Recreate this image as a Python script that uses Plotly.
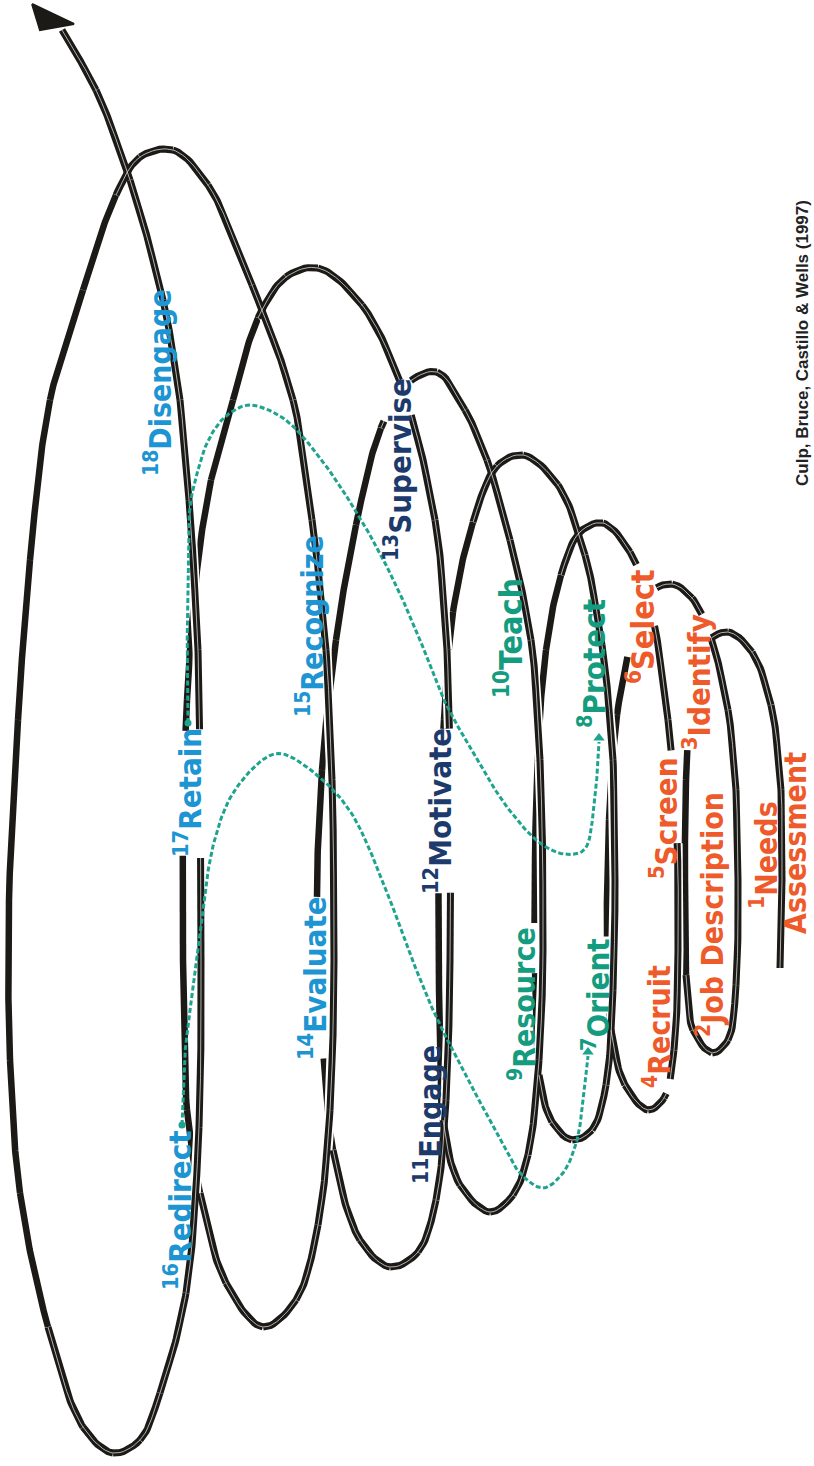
import numpy as np
import plotly.graph_objects as go

# ---------------------------------------------------------------- data
STEP_NUM = list(range(1, 19))
STEP_NAME = ["Needs Assessment", "Job Description", "Identify", "Recruit", "Screen",
             "Select", "Orient", "Protect", "Resource", "Teach", "Engage", "Motivate",
             "Supervise", "Evaluate", "Recognize", "Redirect", "Retain", "Disengage"]
STEP_PHASE = ["hire"] * 6 + ["train"] * 4 + ["manage"] * 3 + ["sustain"] * 5
CREDIT = "Culp, Bruce, Castillo & Wells (1997)"

# spiral control points (picture pixels, y downward), in drawing order
SPIRAL_X = [780, 782, 781, 771, 752, 728,
            706, 693, 686, 685, 686, 693, 712,
            728, 736, 738, 736, 728, 710, 692, 672,
            651, 634, 617, 609, 607, 611, 625, 648,
            664, 674, 678, 677, 668, 652, 630, 603,
            580, 561, 546, 538, 535, 535, 539, 552, 572,
            592, 606, 613, 615, 613, 602, 585, 558, 523,
            497, 473, 453, 444, 439, 439, 443, 460, 490,
            513, 528, 539, 543, 540, 531, 510, 487, 465, 437,
            408, 381, 356, 336, 322, 317, 322, 333, 360, 390,
            418, 436, 446, 450, 450, 447, 435, 403, 362, 318,
            286, 258, 233, 211, 197, 187, 183, 183, 187, 200, 226, 263,
            296, 318, 330, 334, 332, 326, 312, 293, 252, 208, 173,
            140, 116, 83, 50, 30, 18, 9, 10, 20, 48, 83, 113,
            140, 160, 186, 199, 201, 200, 198, 189, 180, 163, 130, 96, 62]
SPIRAL_Y = [968, 880, 790, 705, 652, 632,
            643, 688, 780, 880, 975, 1030, 1053,
            1040, 985, 880, 790, 710, 635, 598, 584,
            592, 632, 715, 820, 930, 1030, 1085, 1110,
            1098, 1050, 950, 840, 720, 615, 552, 523,
            532, 575, 650, 750, 860, 970, 1075, 1122, 1140,
            1130, 1085, 990, 880, 760, 645, 555, 485, 455,
            466, 522, 612, 720, 850, 990, 1120, 1185, 1212,
            1195, 1155, 1060, 950, 760, 640, 540, 460, 410, 372,
            383, 428, 525, 640, 770, 900, 1030, 1150, 1240, 1267,
            1252, 1200, 1100, 960, 800, 650, 520, 390, 305, 268,
            277, 318, 400, 480, 570, 700, 840, 960, 1110, 1193, 1283, 1327,
            1300, 1225, 1110, 960, 780, 650, 520, 400, 285, 185, 150,
            157, 195, 290, 400, 560, 720, 900, 1060, 1193, 1327, 1427, 1453,
            1440, 1393, 1293, 1127, 960, 800, 650, 500, 400, 300, 180, 90, 30]
# 1 = strand in front (tube with highlight), 0 = strand behind
SPIRAL_FRONT = [1, 1, 1, 1, 1, 1,
                1, 0, 0, 0, 1, 1, 1,
                1, 1, 1, 1, 1, 1, 1, 1,
                1, 0, 0, 0, 0, 1, 1, 1,
                1, 1, 1, 1, 1, 1, 1, 1,
                1, 0, 0, 0, 0, 0, 1, 1, 1,
                1, 1, 1, 1, 1, 1, 1, 1, 1,
                1, 0, 0, 0, 0, 0, 1, 1, 1,
                1, 1, 1, 1, 1, 1, 1, 1, 1, 1,
                1, 0, 0, 0, 0, 0, 0, 1, 1, 1,
                1, 1, 1, 1, 1, 1, 1, 1, 1, 1,
                1, 0, 0, 0, 0, 0, 0, 0, 0, 1, 1, 1,
                1, 1, 1, 1, 1, 1, 1, 1, 1, 1, 1,
                1, 0, 0, 0, 0, 0, 0, 0, 0, 1, 1, 1,
                1, 1, 1, 1, 1, 1, 1, 1, 1, 1, 1, 1, 1]
ARROW_X = [32, 40, 74]
ARROW_Y = [4, 30, 24]

# dashed teal paths
LOWER_PATH_X = [182, 185, 197, 200, 213, 233, 267, 283, 317, 350, 383, 407, 433, 463,
                497, 520, 543, 563, 577, 583, 588]
LOWER_PATH_Y = [1125, 1053, 960, 936, 846, 793, 757, 754, 775, 811, 882, 946, 1010, 1070,
                1133, 1173, 1188, 1173, 1140, 1100, 1056]
UPPER_PATH_X = [188, 187, 188, 190, 198, 207, 220, 233, 250, 283, 317, 360, 393, 420,
                444, 474, 507, 540, 564, 584, 594, 599]
UPPER_PATH_Y = [723, 660, 600, 507, 470, 443, 422, 411, 405, 418, 454, 518, 579, 640,
                700, 754, 807, 843, 854, 850, 807, 742]

# ---------------------------------------------------------------- label layout
LABEL_X = [None, 710, 697, 657, 664, 641, 596, 592, 522, 509, 428, 438, 398, 313, 310, 178, 188, 158]
LABEL_Y = [None, 915, 682, 1027, 818, 627, 995, 664, 1004, 638, 1115, 811, 470, 978, 626, 1210, 793, 383]
LABEL_LEN = [0, 241, 125, 118, 122, 112, 104, 128, 150, 110, 126, 150, 166, 149, 175, 146, 114, 176]
LABEL_SIZE = [30, 30, 31, 30, 31, 32, 31, 31, 30, 32, 30, 31, 31, 31, 30, 31, 31, 30]
LABEL_CUT = [0, 0, 1, 1, 1, 1, 1, 0, 1, 0, 0, 1, 1, 1, 0, 0, 1, 0]
NEEDS_POS = [(764, 855), (795, 843)]
PHASE_COLOR = {"hire": "#ee5a2a", "train": "#149c80", "manage": "#1d3a6c", "sustain": "#1c95d2"}
FONT = "Liberation Sans Narrow, Arial Narrow, DejaVu Sans Condensed, sans-serif"
INK = "#1c1a17"


def cr_segment(p0, p1, p2, p3, n):
    def tj(ti, pa, pb):
        return ti + max(np.hypot(*(pb - pa)), 1e-6) ** 0.5
    t0 = 0.0
    t1 = tj(t0, p0, p1)
    t2 = tj(t1, p1, p2)
    t3 = tj(t2, p2, p3)
    t = np.linspace(t1, t2, n)[:, None]
    a1 = (t1 - t) / (t1 - t0) * p0 + (t - t0) / (t1 - t0) * p1
    a2 = (t2 - t) / (t2 - t1) * p1 + (t - t1) / (t2 - t1) * p2
    a3 = (t3 - t) / (t3 - t2) * p2 + (t - t2) / (t3 - t2) * p3
    b1 = (t2 - t) / (t2 - t0) * a1 + (t - t0) / (t2 - t0) * a2
    b2 = (t3 - t) / (t3 - t1) * a2 + (t - t1) / (t3 - t1) * a3
    return (t2 - t) / (t2 - t1) * b1 + (t - t1) / (t2 - t1) * b2


def smooth_segments(xs, ys):
    P = np.column_stack([xs, ys]).astype(float)
    E = np.vstack([2 * P[0] - P[1], P, 2 * P[-1] - P[-2]])
    segs = []
    for i in range(len(P) - 1):
        n = int(max(8, np.hypot(*(P[i + 1] - P[i])) / 3))
        segs.append(cr_segment(E[i], E[i + 1], E[i + 2], E[i + 3], n))
    return segs


# rectangles (picture px) hiding the strand that runs behind some labels
cut_boxes = []
for i in range(18):
    if LABEL_CUT[i]:
        half = LABEL_LEN[i] / 2 + 5
        cut_boxes.append((LABEL_X[i] - 13, LABEL_X[i] + 13, LABEL_Y[i] - half, LABEL_Y[i] + half))


def masked(px, py):
    return any(x0 <= px <= x1 and y0 <= py <= y1 for x0, x1, y0, y1 in cut_boxes)


segs = smooth_segments(SPIRAL_X, SPIRAL_Y)
front_x, front_y, back_x, back_y = [], [], [], []
for seg, flag in zip(segs, SPIRAL_FRONT[:-1]):
    tx, ty = (front_x, front_y) if flag else (back_x, back_y)
    for px, py in seg:
        if masked(px, py):
            tx.append(None); ty.append(None)
        else:
            tx.append(px); ty.append(py)
    tx.append(None); ty.append(None)


def smooth_path(xs, ys):
    out = np.vstack(smooth_segments(xs, ys))
    return out[:, 0], out[:, 1]


def line_trace(xs, ys, color, width, dash=None):
    return go.Scatter(x=xs, y=ys, mode="lines", line=dict(color=color, width=width, dash=dash),
                      hoverinfo="skip", showlegend=False)


fig = go.Figure()
fig.add_trace(line_trace(back_x, back_y, INK, 6.5))
fig.add_trace(line_trace(front_x, front_y, "white", 11))
fig.add_trace(line_trace(front_x, front_y, INK, 7))
fig.add_trace(line_trace(front_x, front_y, "#f4f4f4", 0.7))
fig.add_trace(go.Scatter(x=ARROW_X + [ARROW_X[0]], y=ARROW_Y + [ARROW_Y[0]], mode="lines",
                         fill="toself", fillcolor=INK, line=dict(color=INK, width=2),
                         hoverinfo="skip", showlegend=False))

teal = "#1ea48e"
for xs, ys in [(LOWER_PATH_X, LOWER_PATH_Y), (UPPER_PATH_X, UPPER_PATH_Y)]:
    sx, sy = smooth_path(xs, ys)
    fig.add_trace(line_trace(sx, sy, teal, 3, "5px,2.5px"))
    fig.add_trace(go.Scatter(x=[xs[0]], y=[ys[0]], mode="markers",
                             marker=dict(color=teal, size=7), hoverinfo="skip", showlegend=False))
    fig.add_trace(go.Scatter(x=[xs[-1]], y=[ys[-1] - 4], mode="markers",
                             marker=dict(color=teal, size=10, symbol="triangle-up"),
                             hoverinfo="skip", showlegend=False))

annotations = []
for i in range(18):
    col = PHASE_COLOR[STEP_PHASE[i]]
    if i == 0:
        first, second = STEP_NAME[0].split(" ")
        for (lx, ly), txt in zip(NEEDS_POS, [f"<b><sup>{STEP_NUM[0]}</sup>{first}</b>", f"<b>{second}</b>"]):
            annotations.append(dict(x=lx, y=ly, xref="x", yref="y", text=txt, showarrow=False,
                                    textangle=-90, xanchor="center", yanchor="middle",
                                    font=dict(family=FONT, size=LABEL_SIZE[0], color=col)))
        continue
    annotations.append(dict(x=LABEL_X[i], y=LABEL_Y[i], xref="x", yref="y",
                            text=f"<b><sup>{STEP_NUM[i]}</sup>{STEP_NAME[i]}</b>",
                            showarrow=False, textangle=-90, xanchor="center", yanchor="middle",
                            font=dict(family=FONT, size=LABEL_SIZE[i], color=col)))
annotations.append(dict(x=802, y=343, xref="x", yref="y", text=f"<b>{CREDIT}</b>", showarrow=False,
                        textangle=-90, xanchor="center", yanchor="middle",
                        font=dict(family="Liberation Sans, Arial, sans-serif", size=17, color="#222")))

fig.update_layout(
    width=814, height=1466, margin=dict(l=0, r=0, t=0, b=0),
    paper_bgcolor="white", plot_bgcolor="white",
    xaxis=dict(range=[0, 814], visible=False, fixedrange=True),
    yaxis=dict(range=[1466, 0], visible=False, fixedrange=True),
    annotations=annotations, showlegend=False,
)

fig.write_html("out.html", config={"displayModeBar": False},
               post_script="document.body.style.margin='0';document.body.style.overflow='hidden';")
